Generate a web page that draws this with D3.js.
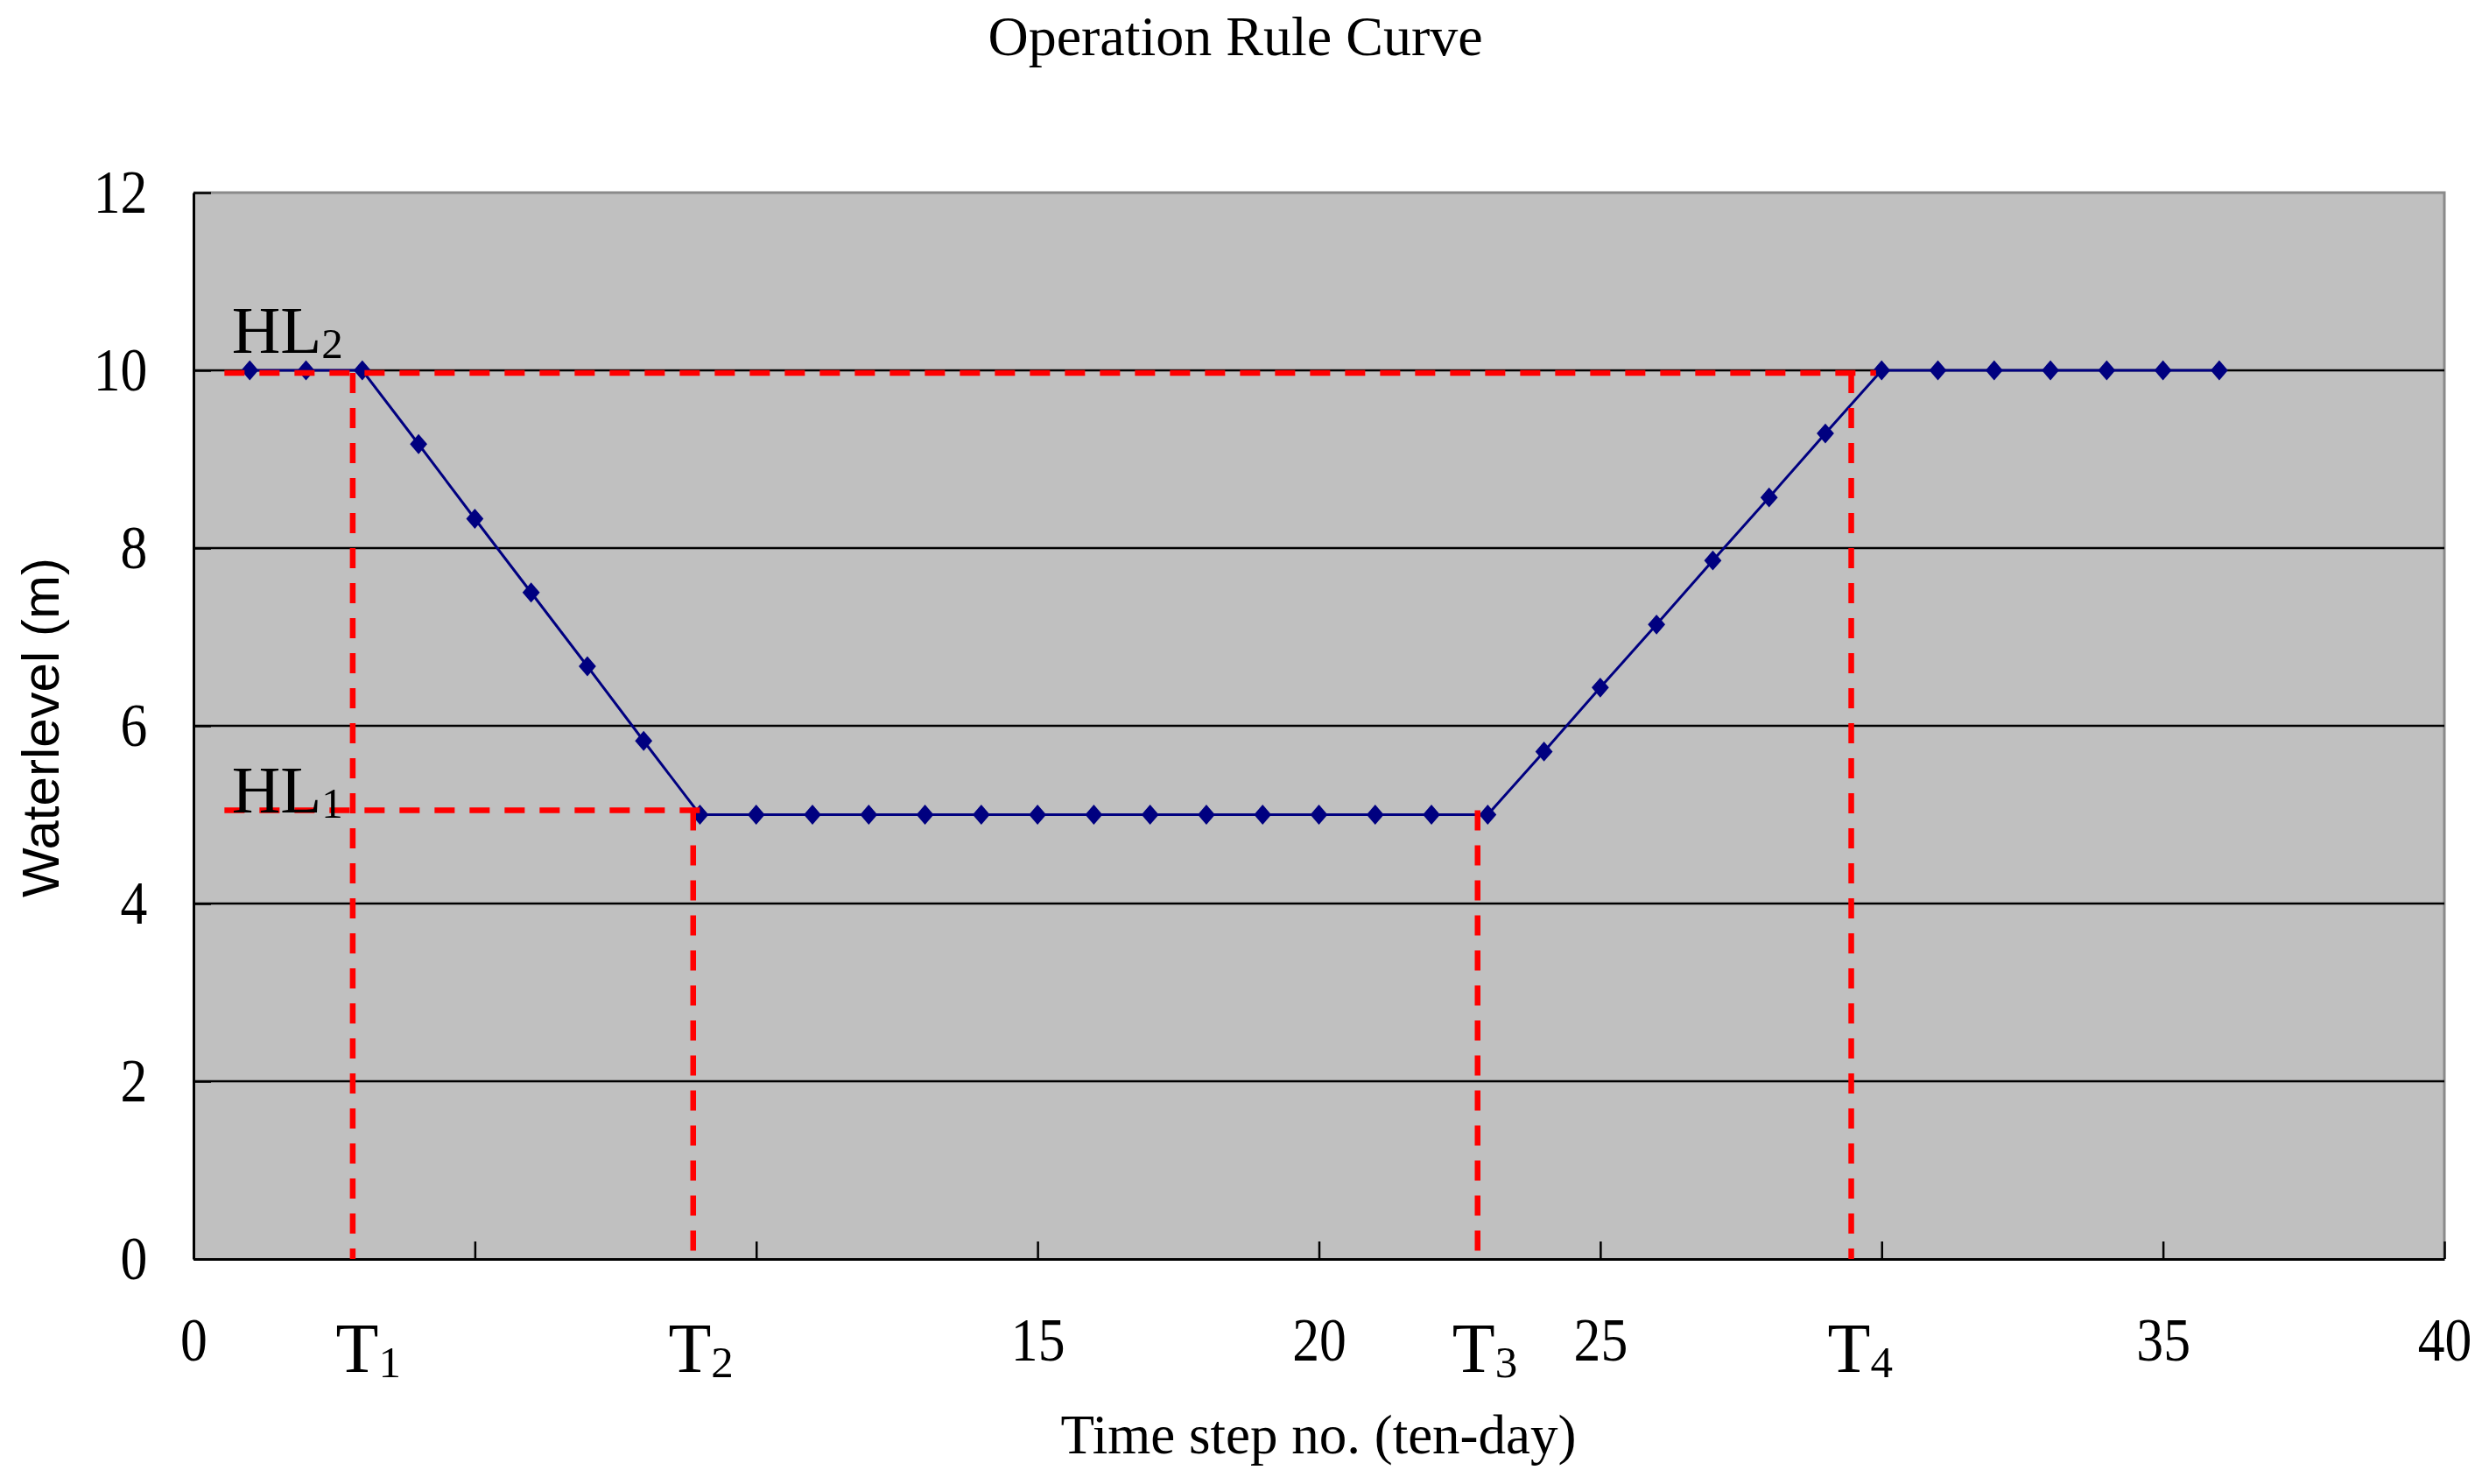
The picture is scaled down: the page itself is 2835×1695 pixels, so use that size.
<!DOCTYPE html>
<html>
<head>
<meta charset="utf-8">
<script src="https://cdn.jsdelivr.net/npm/d3@7"></script>
<style>
  html, body { margin: 0; padding: 0; background: #fff; }
  svg { display: block; }
</style>
</head>
<body>
<svg id="chart"></svg>
<script>
// series
const timeSteps = d3.range(1, 37);
const waterLevels = [10, 10, 10, 9.17, 8.33, 7.5, 6.67, 5.83, 5,
    5, 5, 5, 5, 5, 5, 5, 5, 5, 5, 5, 5, 5, 5,
    5.71, 6.43, 7.14, 7.86, 8.57, 9.29, 10,
    10, 10, 10, 10, 10, 10];

// axes
const xTicks = [0, 5, 10, 15, 20, 25, 30, 35, 40];
const xTickLabels = ["0", "", "", "15", "20", "25", "", "35", "40"];
const yTicks = [0, 2, 4, 6, 8, 10, 12];
const gridLevels = [2, 4, 6, 8, 10];

// T markers (dashed verticals) and their labels
const tSubs = ["1", "2", "3", "4"];
const tLineX = [2.83, 8.88, 22.82, 29.46];
const tLineTop = [9.97, 5.05, 5.05, 9.97];
const tLabelX = [2.53, 8.44, 22.37, 29.04];

// HL levels (dashed horizontals) and their labels
const hlSubs = ["1", "2"];
const hlLevels = [5.05, 9.97];
const hlStart = [0.55, 0.55];
const hlEnd = [9.0, 29.9];
const hlLabelY = [5.02, 10.2];
const hlLabelX = [0.68, 0.68];

const width = 2835, height = 1695;
const margin = { top: 220, right: 43, bottom: 257, left: 221 };
const innerW = width - margin.left - margin.right;
const innerH = height - margin.top - margin.bottom;
const serif = "'Liberation Serif', 'Times New Roman', serif";
const sans = "'Liberation Sans', Arial, sans-serif";
const squeeze = 0.88; // the reference glyphs are a bit narrow

const svg = d3.select("#chart")
    .attr("width", width)
    .attr("height", height)
    .style("background", "#fff");

const x = d3.scaleLinear().domain([0, 40]).range([0, innerW]);
const y = d3.scaleLinear().domain([0, 12]).range([innerH, 0]);

const g = svg.append("g")
    .attr("transform", `translate(${margin.left},${margin.top})`);

// plot area
g.append("rect")
    .attr("width", innerW)
    .attr("height", innerH)
    .attr("fill", "#c0c0c0");

g.append("path")
    .attr("d", `M0,${y(12)}H${x(40)}V${y(0)}`)
    .attr("fill", "none")
    .attr("stroke", "#8a8a8a")
    .attr("stroke-width", 3);

g.selectAll(".grid")
    .data(gridLevels)
    .join("line")
    .attr("class", "grid")
    .attr("x1", 0)
    .attr("x2", innerW)
    .attr("y1", d => y(d))
    .attr("y2", d => y(d))
    .attr("stroke", "#000")
    .attr("stroke-width", 2.5);

// axes
const xAxis = g.append("g")
    .attr("transform", `translate(0,${innerH})`)
    .call(d3.axisBottom(x)
        .tickValues(xTicks)
        .tickFormat((d, i) => xTickLabels[i])
        .tickSizeInner(-20)
        .tickSizeOuter(0)
        .tickPadding(66));

const yAxis = g.append("g")
    .call(d3.axisLeft(y)
        .tickValues(yTicks)
        .tickFormat(d3.format("d"))
        .tickSizeInner(-20)
        .tickSizeOuter(0)
        .tickPadding(60));

[xAxis, yAxis].forEach(ax => {
    ax.select(".domain").attr("stroke", "#000").attr("stroke-width", 3);
    ax.selectAll(".tick line").attr("stroke", "#000").attr("stroke-width", 2.5);
    ax.selectAll(".tick text")
        .attr("fill", "#000")
        .attr("transform", `scale(${squeeze},1)`)
        .style("font-family", serif)
        .style("font-size", "70px");
});

// series
const line = d3.line()
    .x((d, i) => x(timeSteps[i]))
    .y(d => y(d));

g.append("path")
    .datum(waterLevels)
    .attr("d", line)
    .attr("fill", "none")
    .attr("stroke", "#000080")
    .attr("stroke-width", 3);

g.selectAll(".pt")
    .data(waterLevels)
    .join("path")
    .attr("class", "pt")
    .attr("d", d3.symbol(d3.symbolSquare, 196))
    .attr("transform", (d, i) => `translate(${x(timeSteps[i])},${y(d)}) scale(1,1.15) rotate(45)`)
    .attr("fill", "#000080");

// dashed guides
const dash = "23,17";

g.selectAll(".hl-line")
    .data(hlLevels)
    .join("line")
    .attr("class", "hl-line")
    .attr("x1", (d, i) => x(hlStart[i]))
    .attr("x2", (d, i) => x(hlEnd[i]))
    .attr("y1", d => y(d))
    .attr("y2", d => y(d))
    .attr("stroke", "#ff0000")
    .attr("stroke-width", 6.5)
    .attr("stroke-dasharray", dash);

g.selectAll(".t-line")
    .data(tLineX)
    .join("line")
    .attr("class", "t-line")
    .attr("x1", d => x(d))
    .attr("x2", d => x(d))
    .attr("y1", (d, i) => y(tLineTop[i]))
    .attr("y2", y(0))
    .attr("stroke", "#ff0000")
    .attr("stroke-width", 6.5)
    .attr("stroke-dasharray", dash);

// labels with subscripts
function subLabel(sel, base, sub, px, py, size) {
    const t = sel.append("text")
        .attr("x", px)
        .attr("y", py)
        .attr("fill", "#000")
        .style("font-family", serif)
        .style("font-size", size + "px");
    t.append("tspan").text(base);
    t.append("tspan")
        .attr("dy", 6)
        .style("font-size", Math.round(size * 0.64) + "px")
        .text(sub);
    return t;
}

hlSubs.forEach((s, i) => {
    subLabel(g, "HL", s, x(hlLabelX[i]), y(hlLabelY[i]), 77);
});

tSubs.forEach((s, i) => {
    subLabel(g, "T", s, x(tLabelX[i]), innerH + 129, 80);
});

// titles
svg.append("text")
    .attr("x", 1411)
    .attr("y", 63)
    .attr("text-anchor", "middle")
    .style("font-family", serif)
    .style("font-size", "64px")
    .text("Operation Rule Curve");

svg.append("text")
    .attr("x", 1506)
    .attr("y", 1660)
    .attr("text-anchor", "middle")
    .style("font-family", serif)
    .style("font-size", "63px")
    .text("Time step no. (ten-day)");

svg.append("text")
    .attr("transform", `translate(67,${831}) rotate(-90)`)
    .attr("text-anchor", "middle")
    .style("font-family", sans)
    .style("font-size", "60px")
    .text("Waterlevel (m)");
</script>
</body>
</html>
